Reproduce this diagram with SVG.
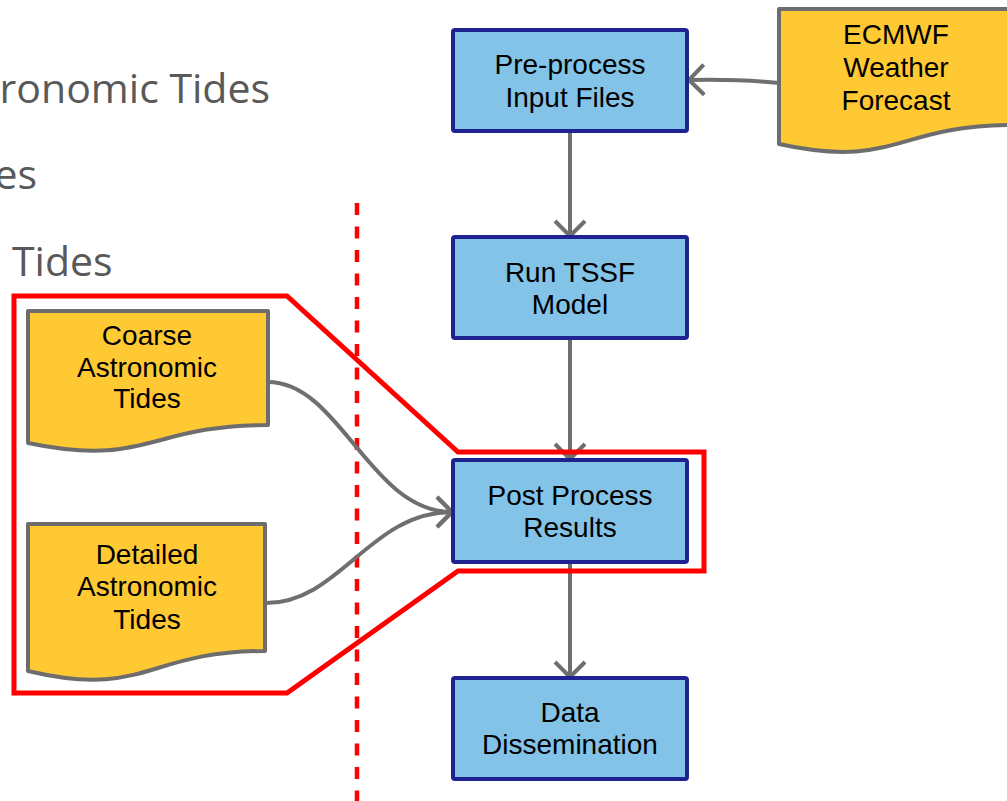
<svg xmlns="http://www.w3.org/2000/svg" width="1007" height="801" viewBox="0 0 1007 801">
  <style>
    .heading { font-family: "Open Sans", "Liberation Sans", sans-serif; font-size: 41px; fill: #595959; }
    .proc rect { fill: #83c3e7; stroke: #1e2390; stroke-width: 4; }
    .doc path { fill: #ffc933; stroke: #6d6d6d; stroke-width: 4; stroke-linejoin: round; }
    .label { font-family: "Liberation Sans", Arial, sans-serif; font-size: 28px; fill: #000; text-anchor: middle; }
    .conn { fill: none; stroke: #6f6f6f; stroke-width: 4; marker-end: url(#chevron); }
    .focus { fill: none; stroke: #ff0000; stroke-width: 5; stroke-linejoin: miter; }
    .divider { fill: none; stroke: #ff0000; stroke-width: 4.5; stroke-dasharray: 12 11.5; }
  </style>
  <defs>
    <marker id="chevron" viewBox="-20 -20 40 40" markerWidth="40" markerHeight="40" markerUnits="userSpaceOnUse" refX="0" refY="0" orient="auto" overflow="visible">
      <path d="M-15,-15 L0,0 L-15,15" fill="none" stroke="#6f6f6f" stroke-width="4" stroke-linejoin="round"/>
    </marker>
  </defs>

  <rect width="1007" height="801" fill="#ffffff"/>

  <!-- slide bullet text partly cut off at the left edge -->
  <g id="bullets">
    <text class="heading" x="270" y="103" text-anchor="end">ronomic Tides</text>
    <text class="heading" x="37" y="189" text-anchor="end">es</text>
    <text class="heading" x="12" y="276">Tides</text>
  </g>

  <!-- dashed separator -->
  <line class="divider" x1="357" y1="203" x2="357" y2="801"/>

  <!-- connectors -->
  <g id="connectors">
    <path class="conn" d="M779,83 Q740,79 689,80"/>
    <line class="conn" x1="570" y1="132" x2="570" y2="236"/>
    <line class="conn" x1="570" y1="339" x2="570" y2="459"/>
    <line class="conn" x1="570" y1="563" x2="570" y2="677"/>
    <path class="conn" d="M268,382 C340,382 370,512 452,512"/>
    <path class="conn" d="M266,603 C340,603 370,512 452,512"/>
  </g>

  <!-- process boxes -->
  <g id="preprocess" class="proc">
    <rect x="453" y="30" width="234" height="101" rx="2"/>
    <text class="label" x="570" y="74">Pre-process</text>
    <text class="label" x="570" y="107">Input Files</text>
  </g>
  <g id="run-tssf" class="proc">
    <rect x="453" y="237" width="234" height="101" rx="2"/>
    <text class="label" x="570" y="282">Run TSSF</text>
    <text class="label" x="570" y="314">Model</text>
  </g>
  <g id="post-process" class="proc">
    <rect x="453" y="460" width="234" height="102" rx="2"/>
    <text class="label" x="570" y="505">Post Process</text>
    <text class="label" x="570" y="537">Results</text>
  </g>
  <g id="dissemination" class="proc">
    <rect x="453" y="678" width="234" height="101" rx="2"/>
    <text class="label" x="570" y="722">Data</text>
    <text class="label" x="570" y="754">Dissemination</text>
  </g>

  <!-- document inputs -->
  <g id="ecmwf" class="doc">
    <path d="M779,9 H1013 V125 C896,125 896,169.6 779,144 Z"/>
    <text class="label" x="896" y="44">ECMWF</text>
    <text class="label" x="896" y="77">Weather</text>
    <text class="label" x="896" y="110">Forecast</text>
  </g>
  <g id="coarse-tides" class="doc">
    <path d="M28,311 H268 V425 C148,425 148,468 28,443 Z"/>
    <text class="label" x="147" y="345">Coarse</text>
    <text class="label" x="147" y="377">Astronomic</text>
    <text class="label" x="147" y="408">Tides</text>
  </g>
  <g id="detailed-tides" class="doc">
    <path d="M28,524 H265 V651 C146,651 146,699 28,671 Z"/>
    <text class="label" x="147" y="564">Detailed</text>
    <text class="label" x="147" y="596">Astronomic</text>
    <text class="label" x="147" y="629">Tides</text>
  </g>

  <!-- highlight outline -->
  <path class="focus" d="M14,296 H287 L458,452 H704 V571 H458 L287,693 H14 Z"/>
</svg>
